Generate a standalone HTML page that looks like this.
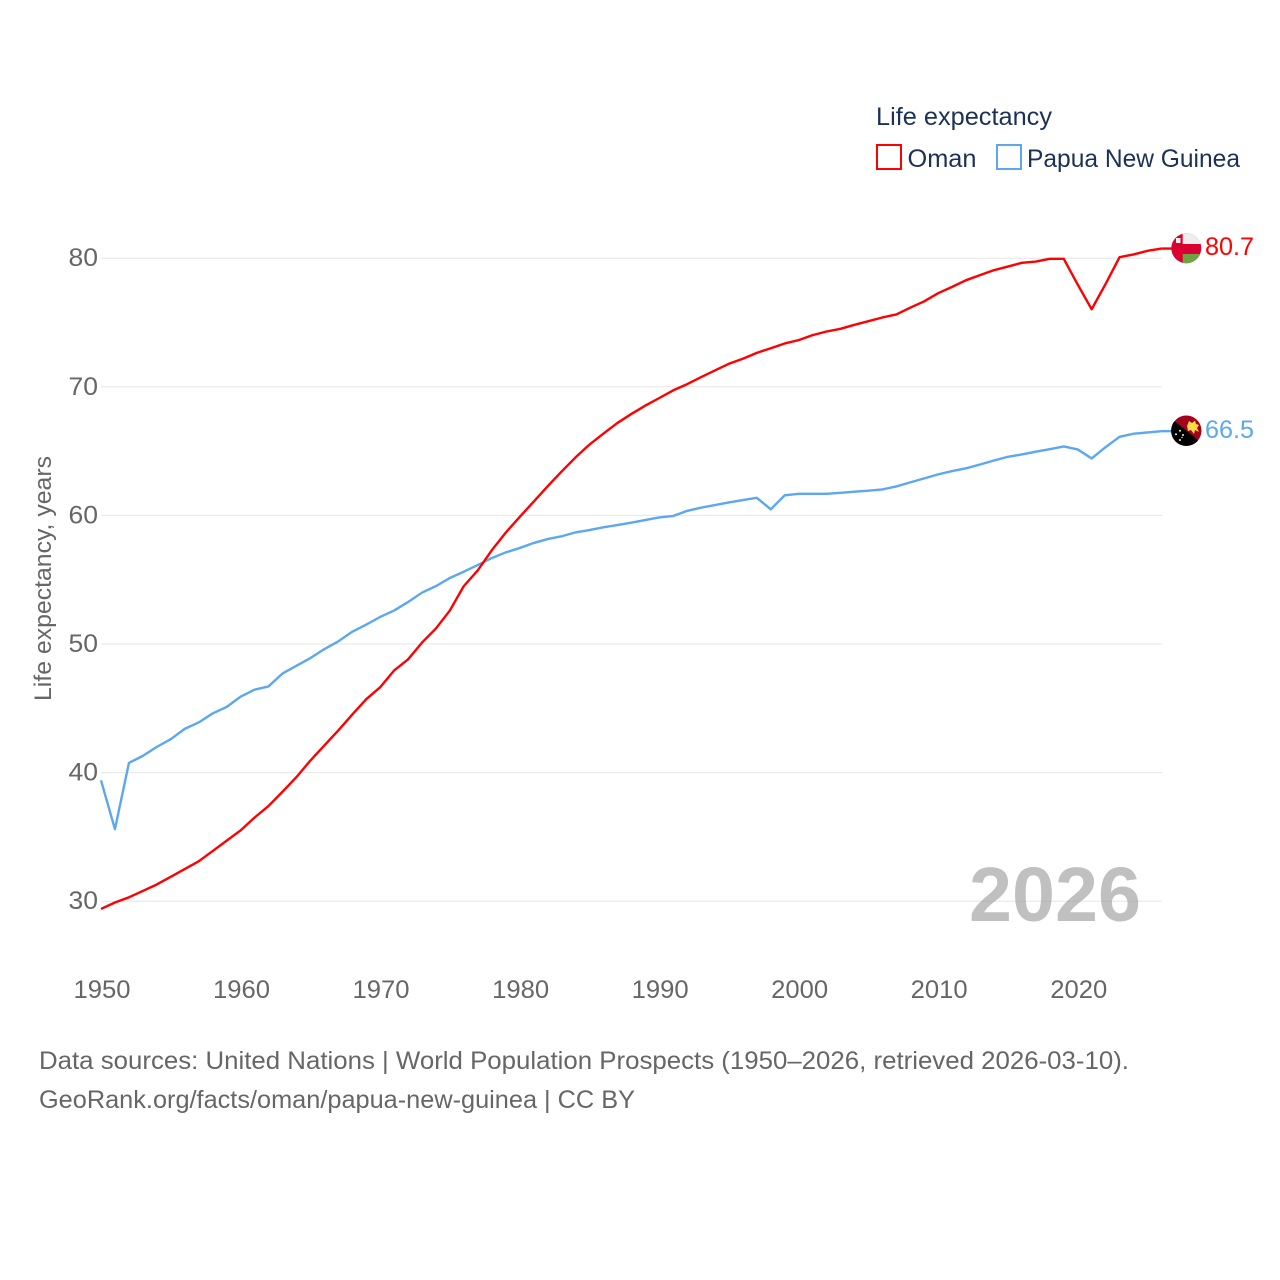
<!DOCTYPE html>
<html lang="en">
<head>
<meta charset="utf-8">
<title>Life expectancy: Oman and Papua New Guinea</title>
<style>
html,body{margin:0;padding:0;background:#fff;width:1280px;height:1280px;overflow:hidden}
svg{display:block}
text{font-family:"Liberation Sans",sans-serif}
</style>
</head>
<body>
<svg id="chart" xmlns="http://www.w3.org/2000/svg" width="1280" height="1280" viewBox="0 0 1280 1280">
  <defs>
    <clipPath id="oman-clip"><circle cx="1186.3" cy="248.3" r="15"/></clipPath>
    <clipPath id="png-clip"><circle cx="1186.3" cy="430.7" r="15.2"/></clipPath>
  </defs>
  <g id="grid"></g>
  <g id="y-ticks"></g>
  <g id="x-ticks"></g>

  <text transform="translate(51,701) rotate(-90)" font-size="24" fill="#666" textLength="245" lengthAdjust="spacingAndGlyphs">Life expectancy, years</text>

  <text x="876" y="125" font-size="25" fill="#1b3155" textLength="176" lengthAdjust="spacingAndGlyphs">Life expectancy</text>
  <rect x="877" y="145" width="24" height="24" fill="none" stroke="#ff0000" stroke-width="2"/>
  <text x="907.5" y="167" font-size="25" fill="#1b3155" textLength="69" lengthAdjust="spacingAndGlyphs">Oman</text>
  <rect x="997" y="145" width="24" height="24" fill="none" stroke="#5ba8f0" stroke-width="2"/>
  <text x="1027" y="167" font-size="25" fill="#1b3155" textLength="213" lengthAdjust="spacingAndGlyphs">Papua New Guinea</text>

  <text x="969" y="921" font-size="77" font-weight="700" fill="#999" fill-opacity="0.62" textLength="172" lengthAdjust="spacingAndGlyphs">2026</text>

  <path id="line-png" fill="none" stroke="#5ba8f0" stroke-width="2.4" stroke-linejoin="round"/>
  <path id="line-oman" fill="none" stroke="#ff0000" stroke-width="2.4" stroke-linejoin="round"/>
  <path id="lead-png" fill="none" stroke="#5ba8f0" stroke-width="2.4"/>
  <path id="lead-oman" fill="none" stroke="#ff0000" stroke-width="2.4"/>

  <g clip-path="url(#oman-clip)">
    <rect x="1171" y="233" width="31" height="31" fill="#db0032"/>
    <rect x="1182.7" y="233" width="19" height="11" fill="#eeeeee"/>
    <rect x="1182.7" y="254" width="19" height="10" fill="#6da544"/>
    <rect x="1176" y="238" width="4.5" height="5" fill="#eeeeee"/>
  </g>
  <g clip-path="url(#png-clip)">
    <rect x="1170" y="415" width="32" height="32" fill="#a2001d"/>
    <polygon points="1170,417.5 1202,443.3 1202,447 1170,447" fill="#000000"/>
    <polygon points="1187,426 1189,421 1192,423 1195,420.5 1196,424 1199,425 1197,428 1199,432 1195,430 1194,434 1191,430 1188,431" fill="#ffda44"/>
    <circle cx="1180" cy="430.7" r="1" fill="#eeeeee"/>
    <circle cx="1176" cy="434.3" r="1" fill="#eeeeee"/>
    <circle cx="1183" cy="435" r="1" fill="#eeeeee"/>
    <circle cx="1180" cy="440" r="1" fill="#eeeeee"/>
    <circle cx="1182" cy="437.5" r="0.7" fill="#eeeeee"/>
  </g>

  <text id="label-oman" x="1205" y="255" font-size="25" fill="#ff0000" textLength="49" lengthAdjust="spacingAndGlyphs"></text>
  <text id="label-png" x="1205" y="438" font-size="25" fill="#5ba8f0" textLength="49" lengthAdjust="spacingAndGlyphs"></text>

  <text x="39" y="1069" font-size="25" fill="#666" textLength="1090" lengthAdjust="spacingAndGlyphs">Data sources: United Nations | World Population Prospects (1950–2026, retrieved 2026-03-10).</text>
  <text x="39" y="1108" font-size="25" fill="#666" textLength="596" lengthAdjust="spacingAndGlyphs">GeoRank.org/facts/oman/papua-new-guinea | CC BY</text>
</svg>
<script>
const firstYear = 1950;
const xTickYears = [1950, 1960, 1970, 1980, 1990, 2000, 2010, 2020];
const yTickValues = [30, 40, 50, 60, 70, 80];
const omanValues = [29.4,29.9,30.3,30.8,31.3,31.9,32.5,33.1,33.9,34.7,35.5,36.5,37.4,38.5,39.64,40.93,42.1,43.27,44.5,45.7,46.63,47.93,48.8,50.1,51.2,52.6,54.5,55.72,57.28,58.65,59.87,61.06,62.25,63.4,64.5,65.5,66.35,67.18,67.88,68.53,69.12,69.72,70.2,70.75,71.27,71.79,72.18,72.64,73.0,73.37,73.63,74.02,74.3,74.51,74.82,75.1,75.39,75.63,76.15,76.65,77.28,77.77,78.29,78.68,79.07,79.35,79.64,79.74,79.95,79.95,77.95,76.03,78.0,80.08,80.29,80.57,80.75];
const pngValues = [39.4,35.6,40.75,41.3,42.0,42.6,43.4,43.9,44.6,45.1,45.9,46.45,46.7,47.7,48.3,48.9,49.6,50.2,50.95,51.5,52.1,52.6,53.26,53.99,54.5,55.13,55.62,56.14,56.68,57.12,57.46,57.85,58.16,58.37,58.68,58.86,59.07,59.25,59.43,59.64,59.84,59.95,60.35,60.6,60.8,61.01,61.19,61.37,60.47,61.56,61.68,61.68,61.68,61.76,61.84,61.92,62.02,62.25,62.57,62.88,63.19,63.45,63.66,63.96,64.27,64.56,64.74,64.95,65.15,65.36,65.13,64.43,65.31,66.11,66.35,66.45,66.55];
const omanLabel = "80.7";
const pngLabel = "66.5";

const SVG_NS = "http://www.w3.org/2000/svg";
function xScale(year) { return 101 + (year - 1950) * 13.953; }
function yScale(value) { return 258.2 + (80 - value) * 12.86; }
function linePath(values) {
  return values.map(function (v, i) {
    return (i ? "L" : "M") + xScale(firstYear + i).toFixed(2) + " " + yScale(v).toFixed(2);
  }).join("");
}

const grid = document.getElementById("grid");
const yTicks = document.getElementById("y-ticks");
const xTicks = document.getElementById("x-ticks");

yTickValues.forEach(function (v) {
  const line = document.createElementNS(SVG_NS, "line");
  
  
  line.setAttribute("x1", 101);
  line.setAttribute("x2", 1162);
  line.setAttribute("y1", yScale(v));
  line.setAttribute("y2", yScale(v));
  line.setAttribute("stroke", "#e6e6e6");
  line.setAttribute("stroke-width", "1");
  grid.appendChild(line);

  const label = document.createElementNS(SVG_NS, "text");
  
  
  label.setAttribute("x", 68.5);
  label.setAttribute("y", yScale(v) + 8);
  label.setAttribute("font-size", "25");
  label.setAttribute("fill", "#666");
  label.setAttribute("textLength", "29.5");
  label.setAttribute("lengthAdjust", "spacingAndGlyphs");
  label.textContent = String(v);
  yTicks.appendChild(label);
});

xTickYears.forEach(function (y) {
  const label = document.createElementNS(SVG_NS, "text");
  
  
  label.setAttribute("x", xScale(y) - 27.5);
  label.setAttribute("y", 998);
  label.setAttribute("font-size", "25");
  label.setAttribute("fill", "#666");
  label.setAttribute("textLength", "57");
  label.setAttribute("lengthAdjust", "spacingAndGlyphs");
  label.textContent = String(y);
  xTicks.appendChild(label);
});

document.getElementById("line-oman").setAttribute("d", linePath(omanValues));
document.getElementById("line-png").setAttribute("d", linePath(pngValues));

const lastX = xScale(firstYear + omanValues.length - 1);
const omanEndY = yScale(omanValues[omanValues.length - 1]);
const pngEndY = yScale(pngValues[pngValues.length - 1]);
document.getElementById("lead-oman").setAttribute("d", "M" + lastX + " " + omanEndY + "L1172 " + omanEndY);
document.getElementById("lead-png").setAttribute("d", "M" + lastX + " " + pngEndY + "L1172 " + pngEndY);
document.getElementById("label-oman").textContent = omanLabel;
document.getElementById("label-png").textContent = pngLabel;
</script>
</body>
</html>
